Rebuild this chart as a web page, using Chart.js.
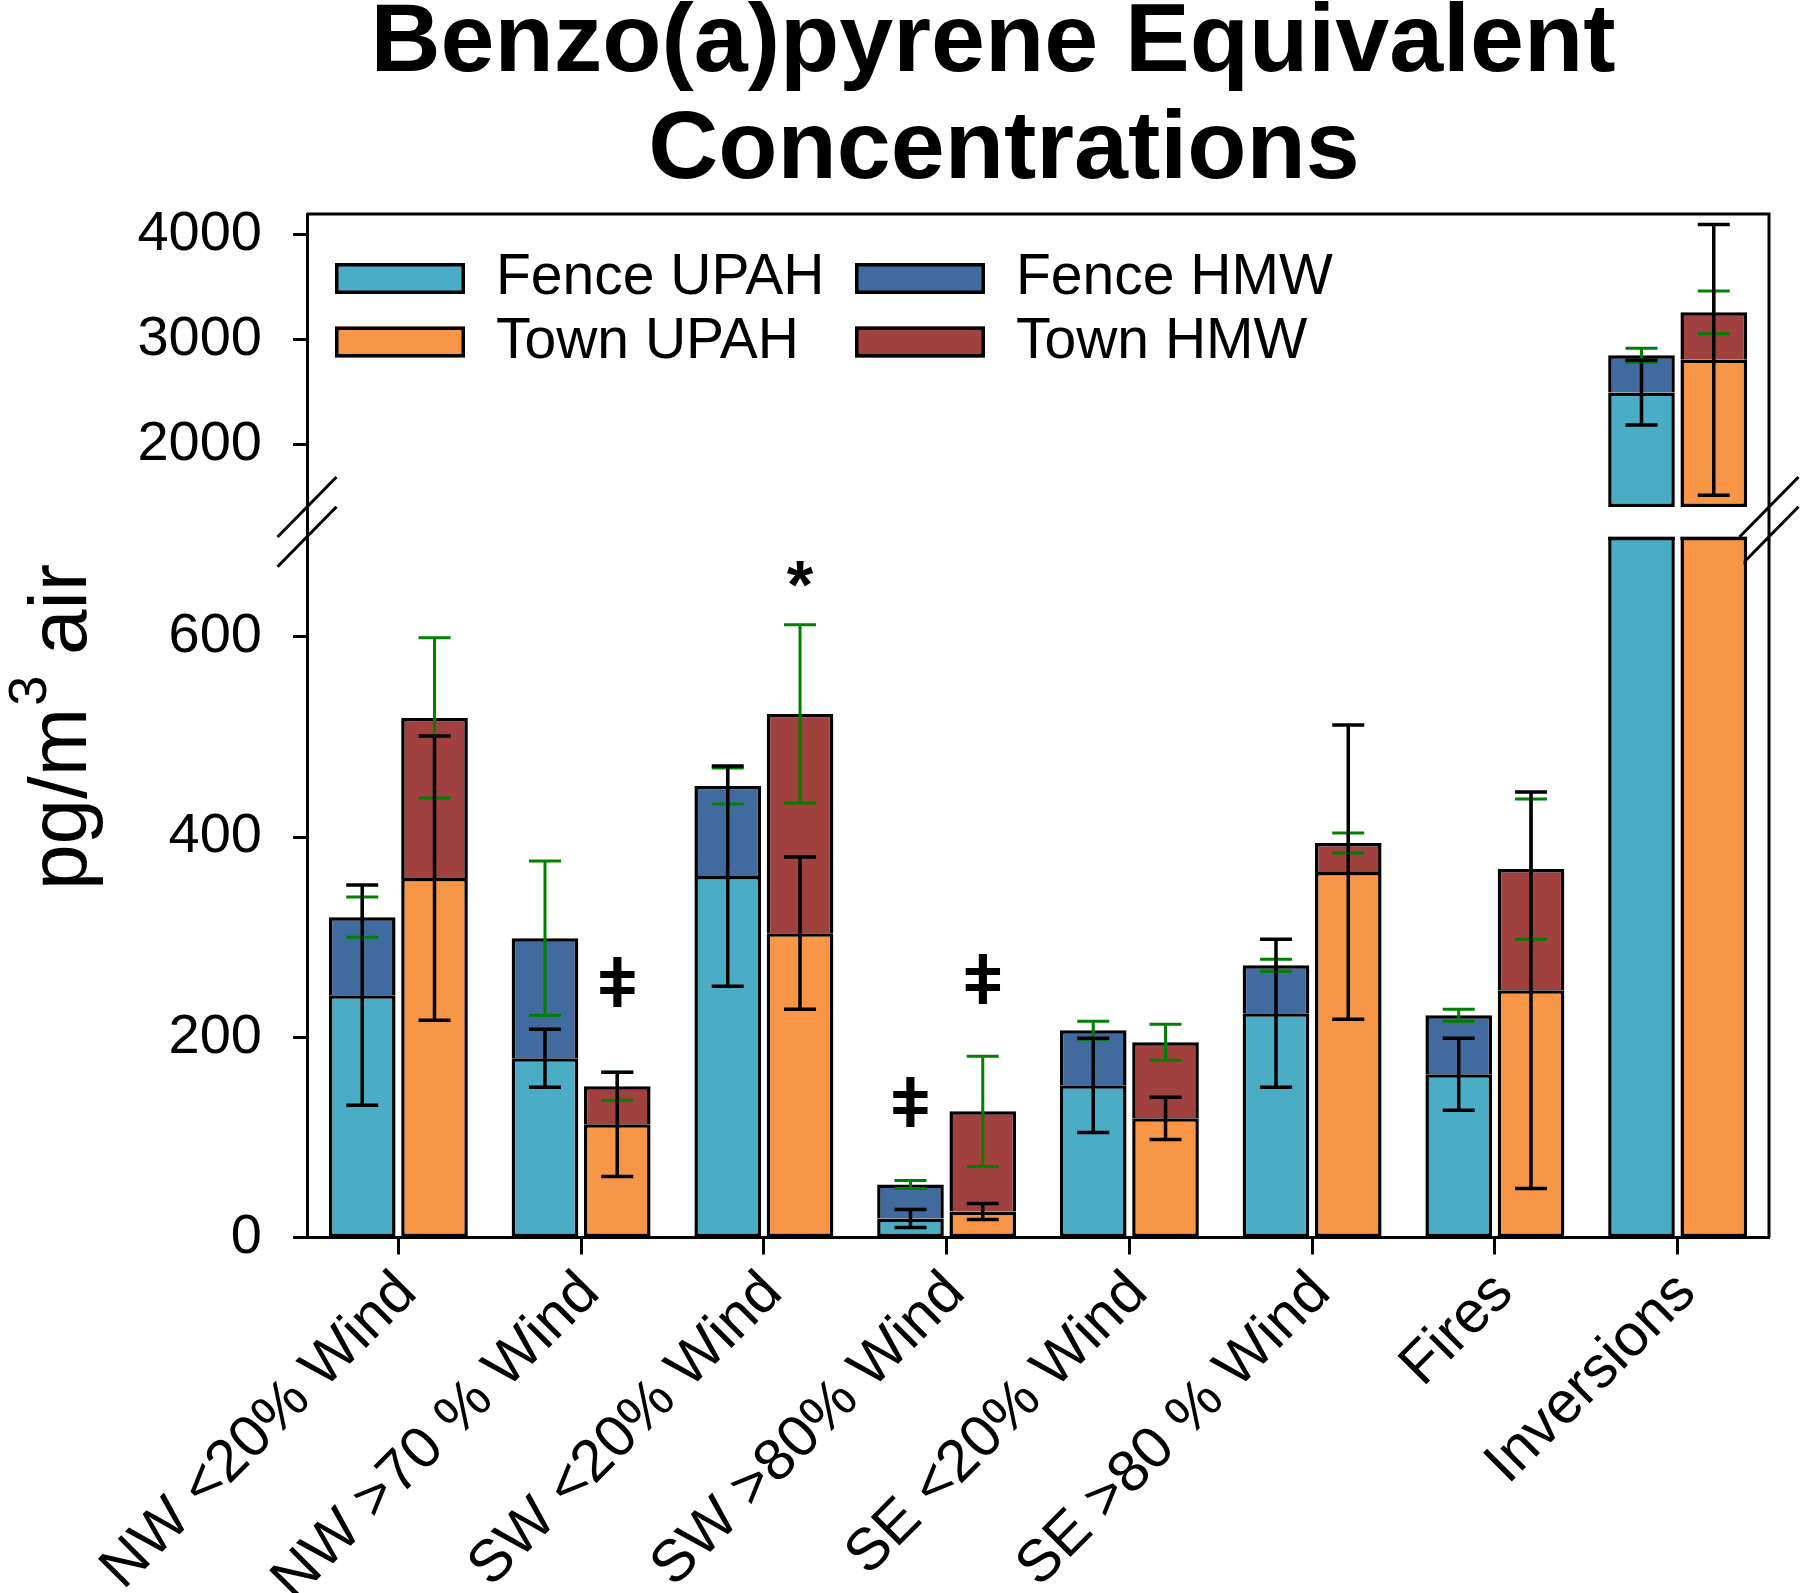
<!DOCTYPE html>
<html lang="en">
<head>
<meta charset="UTF-8">
<title>Benzo(a)pyrene Equivalent Concentrations</title>
<script src="https://cdn.jsdelivr.net/npm/chart.js"></script>
<style>
  * { margin: 0; padding: 0; }
  body { background: #fff; width: 1800px; height: 1593px; overflow: hidden; }
</style>
</head>
<body>
<canvas id="chart" width="1800" height="1593"></canvas>
<script>
// categories and values (pg/m3 air)
const categories = ['NW <20% Wind', 'NW >70 % Wind', 'SW <20% Wind', 'SW >80% Wind',
                    'SE <20% Wind', 'SE >80 % Wind', 'Fires', 'Inversions'];
const fenceUpah = [242, 179, 361, 19, 152, 224, 163, 2493];
const fenceHmw  = [78, 120, 90, 34, 55, 48, 59, 357];
const townUpah  = [359, 113, 304, 26, 119, 365, 247, 2806];
const townHmw   = [160, 38, 219, 100, 76, 29, 121, 454];

// error bars: black = UPAH, green = UPAH + HMW
const fenceUpahErr = [110, 29, 110, 9, 47, 74, 36, 310];
const fenceTotErr  = [20, 77, 18, 4, 9, 6, 6, 67];
const townUpahErr  = [142, 52, 76, 8, 21, 147, 198, 1293];
const townTotErr   = [80, 14, 89, 55, 18, 10, 70, 204];

// significance marks
const markSymbol   = ['*', 'ǂ', 'ǂ', 'ǂ'];
const markCategory = [2, 1, 3, 3];
const markSeries   = ['town', 'town', 'fence', 'town'];
const markValue    = [663, 255, 135, 258];

// broken axis
const lowerTicks = [0, 200, 400, 600];
const upperTicks = [2000, 3000, 4000];
const lowMax = 700;
const upBase = 1400;

const FONT = "'Liberation Sans', Arial, sans-serif";
const colFenceUpah = '#4BACC6', colFenceHmw = '#416A9E';
const colTownUpah = '#F79646', colTownHmw = '#A0403F';

function upperSpan(base, add) {
  return base.map((v, i) => {
    const top = v + (add ? add[i] : 0);
    if (top <= lowMax) return null;
    return [add ? Math.max(v, upBase) : upBase, top];
  });
}
const fenceTot = fenceUpah.map((v, i) => v + fenceHmw[i]);
const townTot = townUpah.map((v, i) => v + townHmw[i]);

const common = { borderColor: '#000', borderWidth: 3.5 };
const datasets = [
  { label: 'Fence UPAH', data: fenceUpah, backgroundColor: colFenceUpah, stack: 'fence', yAxisID: 'y', borderSkipped: false, ...common },
  { label: 'Fence HMW', data: fenceHmw, backgroundColor: colFenceHmw, stack: 'fence', yAxisID: 'y', borderSkipped: 'start', ...common },
  { label: 'Town UPAH', data: townUpah, backgroundColor: colTownUpah, stack: 'town', yAxisID: 'y', borderSkipped: false, ...common },
  { label: 'Town HMW', data: townHmw, backgroundColor: colTownHmw, stack: 'town', yAxisID: 'y', borderSkipped: 'start', ...common },
  { label: 'Fence UPAH', data: upperSpan(fenceUpah), backgroundColor: colFenceUpah, stack: 'fence', yAxisID: 'y2', borderSkipped: false, ...common },
  { label: 'Fence HMW', data: upperSpan(fenceUpah, fenceHmw), backgroundColor: colFenceHmw, stack: 'fence', yAxisID: 'y2', borderSkipped: 'start', ...common },
  { label: 'Town UPAH', data: upperSpan(townUpah), backgroundColor: colTownUpah, stack: 'town', yAxisID: 'y2', borderSkipped: false, ...common },
  { label: 'Town HMW', data: upperSpan(townUpah, townHmw), backgroundColor: colTownHmw, stack: 'town', yAxisID: 'y2', borderSkipped: 'start', ...common }
];

function drawErr(chart, x, v, e, color, w) {
  const ctx = chart.ctx;
  const sc = v > lowMax ? chart.scales.y2 : chart.scales.y;
  const yT = sc.getPixelForValue(v + e), yB = sc.getPixelForValue(v - e);
  ctx.save();
  ctx.strokeStyle = color;
  ctx.lineWidth = w;
  ctx.beginPath();
  ctx.moveTo(x, yT); ctx.lineTo(x, yB);
  ctx.moveTo(x - 16, yT); ctx.lineTo(x + 16, yT);
  ctx.moveTo(x - 16, yB); ctx.lineTo(x + 16, yB);
  ctx.stroke();
  ctx.restore();
}

const decor = {
  id: 'decor',
  beforeDatasetDraw(chart, args) {
    if (args.meta.yAxisID !== 'y') return;
    const s = chart.scales.y, a = chart.chartArea;
    chart.ctx.save();
    chart.ctx.beginPath();
    chart.ctx.rect(a.left, s.top, a.right - a.left, s.bottom - s.top + 2);
    chart.ctx.clip();
  },
  afterDatasetDraw(chart, args) {
    if (args.meta.yAxisID === 'y') chart.ctx.restore();
  },
  beforeDatasetsDraw(chart) {
    const ctx = chart.ctx, a = chart.chartArea;
    const y2 = chart.scales.y2;
    const c1 = y2.getPixelForValue(upBase), c2 = y2.bottom;
    ctx.save();
    ctx.strokeStyle = '#000';
    ctx.lineWidth = 3;
    ctx.beginPath();
    // frame
    ctx.moveTo(a.left, a.top); ctx.lineTo(a.right, a.top); ctx.lineTo(a.right, a.bottom);
    // break marks
    [a.left, a.right].forEach(x => {
      [c1, c2].forEach(c => { ctx.moveTo(x - 29.5, c + 30); ctx.lineTo(x + 29.5, c - 30); });
    });
    ctx.stroke();
    ctx.restore();
  },
  afterDatasetsDraw(chart) {
    const ctx = chart.ctx;
    const ys = chart.scales.y;
    // close the top of bars cut by the break
    [0, 2].forEach(d => {
      chart.getDatasetMeta(d).data.forEach(el => {
        if (el.y < ys.top) {
          ctx.fillStyle = '#000';
          ctx.fillRect(el.x - el.width / 2, ys.top, el.width, 3.5);
        }
      });
    });
    const fx = chart.getDatasetMeta(0).data.map(el => el.x);
    const tx = chart.getDatasetMeta(2).data.map(el => el.x);
    categories.forEach((c, i) => {
      drawErr(chart, fx[i], fenceTot[i], fenceTotErr[i], '#008000', 3);
      drawErr(chart, tx[i], townTot[i], townTotErr[i], '#008000', 3);
      drawErr(chart, fx[i], fenceUpah[i], fenceUpahErr[i], '#000', 3.5);
      drawErr(chart, tx[i], townUpah[i], townUpahErr[i], '#000', 3.5);
    });
    ctx.save();
    ctx.fillStyle = '#000';
    ctx.textAlign = 'center';
    ctx.textBaseline = 'alphabetic';
    markSymbol.forEach((s, k) => {
      const x = (markSeries[k] === 'fence' ? fx : tx)[markCategory[k]];
      const y = ys.getPixelForValue(markValue[k]);
      ctx.font = 'bold 68px ' + FONT;
      const m = ctx.measureText(s);
      const h = m.actualBoundingBoxAscent - m.actualBoundingBoxDescent;
      ctx.fillText(s, x, y + h / 2);
    });
    ctx.restore();
  },
  afterDraw(chart) {
    const ctx = chart.ctx, a = chart.chartArea;
    ctx.save();
    ctx.fillStyle = '#000';
    // title
    ctx.textAlign = 'center';
    ctx.textBaseline = 'alphabetic';
    ctx.font = 'bold 97px ' + FONT;
    ctx.fillText('Benzo(a)pyrene Equivalent', 993, 71);
    ctx.fillText('Concentrations', 1004, 178);
    // y title with superscript
    ctx.save();
    ctx.translate(86, 727);
    ctx.rotate(-Math.PI / 2);
    ctx.textAlign = 'left';
    const f1 = '82px ' + FONT, f2 = '54px ' + FONT;
    ctx.font = f1;
    const wA = ctx.measureText('pg/m').width, wC = ctx.measureText(' air').width;
    ctx.font = f2;
    const wB = ctx.measureText('3').width;
    const x0 = -(wA + wB + wC) / 2;
    ctx.font = f1; ctx.fillText('pg/m', x0, 0);
    ctx.font = f2; ctx.fillText('3', x0 + wA + 2, -40);
    ctx.font = f1; ctx.fillText(' air', x0 + wA + wB, 0);
    ctx.restore();
    // legend, two columns
    ctx.font = '57px ' + FONT;
    ctx.textBaseline = 'middle';
    ctx.textAlign = 'left';
    chart.data.datasets.slice(0, 4).forEach((ds, i) => {
      const col = i % 2;
      const row = Math.floor(i / 2);
      const bx = a.left + 28 + col * 520;
      const cy = a.top + 64.5 + row * 63.5;
      ctx.fillStyle = ds.backgroundColor;
      ctx.fillRect(bx, cy - 15.5, 130, 31);
      ctx.strokeStyle = '#000';
      ctx.lineWidth = 3.5;
      ctx.strokeRect(bx + 1.75, cy - 13.75, 126.5, 27.5);
      ctx.fillStyle = '#000';
      ctx.fillText(ds.label, bx + 161, cy);
    });
    ctx.restore();
  }
};

const plainTick = v => String(v);

new Chart(document.getElementById('chart'), {
  type: 'bar',
  data: { labels: categories, datasets: datasets },
  options: {
    responsive: false,
    animation: false,
    devicePixelRatio: 1,
    categoryPercentage: 0.791,
    barPercentage: 0.922,
    layout: { padding: { top: 214, right: 31, left: 0, bottom: 0 } },
    plugins: { legend: { display: false }, tooltip: { enabled: false } },
    scales: {
      x: {
        stacked: true,
        grid: { offset: false, drawOnChartArea: false, tickLength: 17, tickColor: '#000', tickWidth: 3 },
        border: { color: '#000', width: 3 },
        ticks: { autoSkip: false, minRotation: 45, maxRotation: 45, padding: 4, labelOffset: 9,
                 color: '#000', font: { family: FONT, size: 59 } },
        afterFit: s => { s.height = 355.5; }
      },
      y: {
        stacked: true, stack: 'v', stackWeight: 700.8, weight: 0, position: 'left',
        min: 0, max: lowMax,
        afterBuildTicks: s => { s.ticks = lowerTicks.map(v => ({ value: v })); },
        grid: { drawOnChartArea: false, tickLength: 14, tickColor: '#000', tickWidth: 3 },
        border: { color: '#000', width: 3 },
        ticks: { padding: 31, color: '#000', font: { family: FONT, size: 56 }, callback: plainTick },
        afterFit: s => { s.width = 307; }
      },
      y2: {
        stacked: false, stack: 'v', stackWeight: 322.7, weight: 1, position: 'left',
        min: 1116, max: 4200,
        afterBuildTicks: s => { s.ticks = upperTicks.map(v => ({ value: v })); },
        grid: { drawOnChartArea: false, tickLength: 14, tickColor: '#000', tickWidth: 3 },
        border: { color: '#000', width: 3 },
        ticks: { padding: 31, color: '#000', font: { family: FONT, size: 56 }, callback: plainTick },
        afterFit: s => { s.width = 307; }
      }
    }
  },
  plugins: [decor]
});
</script>
</body>
</html>
